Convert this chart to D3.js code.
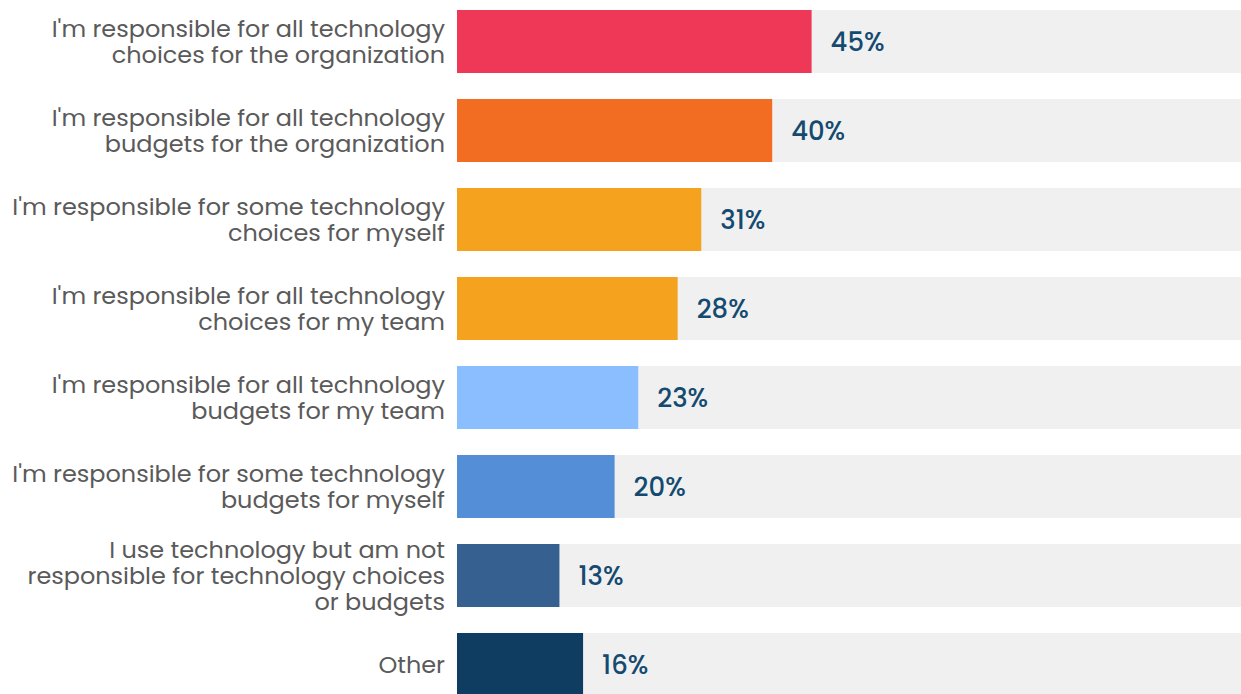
<!DOCTYPE html>
<html>
<head>
<meta charset="utf-8">
<script src="https://cdn.jsdelivr.net/npm/d3@7"></script>
<style>
  html, body { margin: 0; padding: 0; background: #ffffff; }
  svg { display: block; }
</style>
</head>
<body>
<svg id="chart" width="1241" height="694"></svg>
<script>
// Survey responses: role in technology decisions
const categories = [
  "I'm responsible for all technology|choices for the organization",
  "I'm responsible for all technology|budgets for the organization",
  "I'm responsible for some technology|choices for myself",
  "I'm responsible for all technology|choices for my team",
  "I'm responsible for all technology|budgets for my team",
  "I'm responsible for some technology|budgets for myself",
  "I use technology but am not|responsible for technology choices|or budgets",
  "Other"
];
const values = [45, 40, 31, 28, 23, 20, 13, 16];
const barColors = ["#EF3757", "#F26C22", "#F5A21E", "#F5A21E", "#8BBEFE", "#548ED6", "#36608F", "#0F3D62"];

const W = 1241, H = 694;
const svg = d3.select("#chart");
const FONT = "Poppins, 'Open Sans', 'Noto Sans', sans-serif";

const x = d3.scaleLinear().domain([0, 100]).range([457, 1245]);
const step = 89, pad = 26 / 89;
const y = d3.scaleBand()
  .domain(categories)
  .range([10, 10 + step * (categories.length - pad)])
  .paddingInner(pad)
  .paddingOuter(0);

const rows = svg.append("g").selectAll("g")
  .data(categories.map((c, i) => ({ c, v: values[i], color: barColors[i] })))
  .join("g");

// track behind each bar
rows.append("rect")
  .attr("x", x(0))
  .attr("y", d => y(d.c))
  .attr("width", x(100) - x(0))
  .attr("height", y.bandwidth())
  .attr("fill", "#F0F0F0");

rows.append("rect")
  .attr("x", x(0))
  .attr("y", d => y(d.c))
  .attr("width", d => x(d.v) - x(0))
  .attr("height", y.bandwidth())
  .attr("fill", d => d.color);

// size the label font so the longest line spans the label column
function fitSize(text, base, weight, target) {
  const t = svg.append("text").attr("font-family", FONT).attr("font-size", base)
    .attr("font-weight", weight).text(text);
  const w = t.node().getComputedTextLength();
  t.remove();
  return base * target / w;
}
const catSize = fitSize("I'm responsible for some technology", 24, 400, 433);
const valSize = fitSize("45%", 26, 500, 54);
const lineH = 26;

rows.append("text")
  .attr("font-family", FONT)
  .attr("font-size", catSize)
  .attr("fill", "#5A5A5A")
  .attr("text-anchor", "end")
  .each(function (d) {
    const lines = d.c.split("|");
    const cy = y(d.c) + y.bandwidth() / 2;
    const n = lines.length;
    d3.select(this).selectAll("tspan")
      .data(lines)
      .join("tspan")
      .attr("x", 445)
      .attr("y", (l, i) => cy + (i - (n - 1) / 2) * lineH + 8)
      .text(l => l);
  });

rows.append("text")
  .attr("font-family", FONT)
  .attr("font-size", valSize)
  .attr("font-weight", 500)
  .attr("fill", "#154A70")
  .attr("x", d => x(d.v) + 19)
  .attr("y", d => y(d.c) + y.bandwidth() / 2)
  .attr("dy", "0.36em")
  .text(d => d.v + "%");
</script>
</body>
</html>
